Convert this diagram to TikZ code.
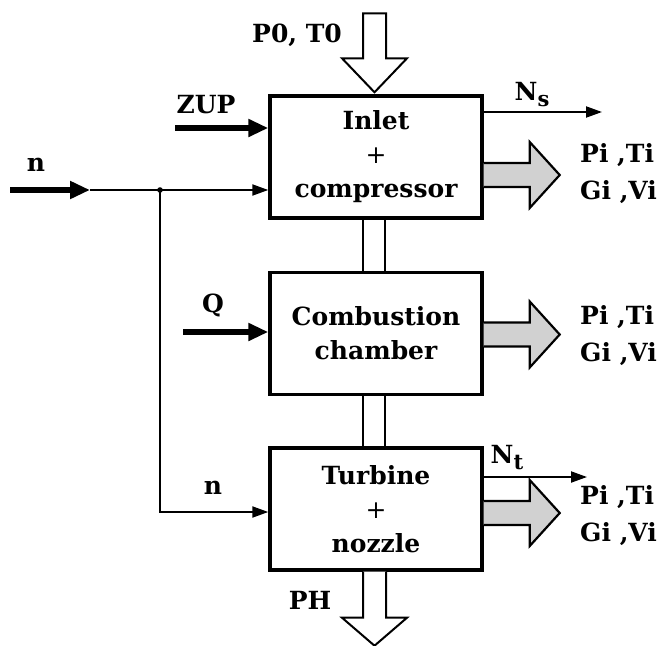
\documentclass[tikz,border=0pt]{standalone}
\usepackage{fontspec}
\setmainfont{DejaVu Serif}
\usetikzlibrary{arrows.meta,calc}

\begin{document}
\begin{tikzpicture}[x=1pt,y=-1pt,
  font=\bfseries\fontsize{25}{34}\selectfont,
  block/.style={draw,line width=3.4pt,minimum width=212pt,minimum height=122pt,align=center,inner sep=0pt},
  fat/.style={line width=5.5pt,-{Triangle[length=20pt,width=17pt]}},
  thin/.style={line width=2pt,-{Triangle[length=16pt,width=11pt]}},
  hollow/.style={draw,line width=2pt,fill=white},
  shaded/.style={draw,line width=2.2pt,fill=black!18}]
\useasboundingbox (0,0) rectangle (660,645);
\node[block] (comp) at (376,157) {Inlet\\{\mdseries+}\\compressor};
\node[block] (comb) at (376,333.5) {Combustion\\chamber};
\node[block] (turb) at (376,509) {Turbine\\{\mdseries+}\\nozzle};
\draw[line width=2pt] ($(comp.south)+(-13,0)$) -- ($(comb.north)+(-13,0)$);
\draw[line width=2pt] ($(comp.south)+(9,0)$) -- ($(comb.north)+(9,0)$);
\draw[line width=2pt] ($(comb.south)+(-13,0)$) -- ($(turb.north)+(-13,0)$);
\draw[line width=2pt] ($(comb.south)+(9,0)$) -- ($(turb.north)+(9,0)$);
\draw[hollow] ($(comp.north)+(-13,-81)$) -- ++(0,45) -- ++(-21,0) -- ++(32.5,34) -- ++(32.5,-34) -- ++(-21,0) -- ++(0,-45) -- cycle;
\node (p0) at (297,35) {P0, T0};
\draw[hollow] ($(turb.south)+(-13,0)$) -- ++(0,46) -- ++(-21,0) -- ++(32.5,28) -- ++(32.5,-28) -- ++(-21,0) -- ++(0,-46);
\node (ph) at (310,600) {PH};
\coordinate (zup) at (175,128);
\draw[fat] (zup) -- (zup -| comp.west);
\node (zupl) at (206,105) {ZUP};
\coordinate (q) at (183,332);
\draw[fat] (q) -- (q -| comb.west);
\node (ql) at (213,305) {Q};
\coordinate (nin) at (10,190);
\coordinate (nend) at (90,190);
\coordinate (split) at (160,190);
\coordinate (nturb) at (160,512);
\draw[fat] (nin) -- (nend);
\draw[thin] (nend) -- (nend -| comp.west);
\fill (split) circle (2.8pt);
\draw[thin] (split) -- (nturb) -- (nturb -| turb.west);
\node (nl) at (36,165) {n};
\node (ntl) at (213,488) {n};
\coordinate (ns) at (602,112);
\draw[thin] (ns -| comp.east) -- (ns);
\node (nsl) at (532,95) {N\raisebox{-6pt}{\fontsize{21}{21}\selectfont s}};
\coordinate (nt) at (587,477);
\draw[thin] (nt -| turb.east) -- (nt);
\node (ntl2) at (507,458) {N\raisebox{-6pt}{\fontsize{21}{21}\selectfont t}};
\draw[shaded] ($(comp.east)+(0,6)$) -- ++(46,0) -- ++(0,-21) -- ++(30,33) -- ++(-30,33) -- ++(0,-21) -- ++(-46,0);
\draw[shaded] ($(comb.east)+(0,-11)$) -- ++(46,0) -- ++(0,-21) -- ++(30,33) -- ++(-30,33) -- ++(0,-21) -- ++(-46,0);
\draw[shaded] ($(turb.east)+(0,-8)$) -- ++(46,0) -- ++(0,-21) -- ++(30,33) -- ++(-30,33) -- ++(0,-21) -- ++(-46,0);
\node[anchor=west,align=left,inner sep=0pt,font=\bfseries\fontsize{25}{37}\selectfont] (out1) at (580,174) {Pi ,Ti\\Gi ,Vi};
\node[anchor=west,align=left,inner sep=0pt,font=\bfseries\fontsize{25}{37}\selectfont] (out2) at (580,336) {Pi ,Ti\\Gi ,Vi};
\node[anchor=west,align=left,inner sep=0pt,font=\bfseries\fontsize{25}{37}\selectfont] (out3) at (580,516) {Pi ,Ti\\Gi ,Vi};
\end{tikzpicture}
\end{document}
